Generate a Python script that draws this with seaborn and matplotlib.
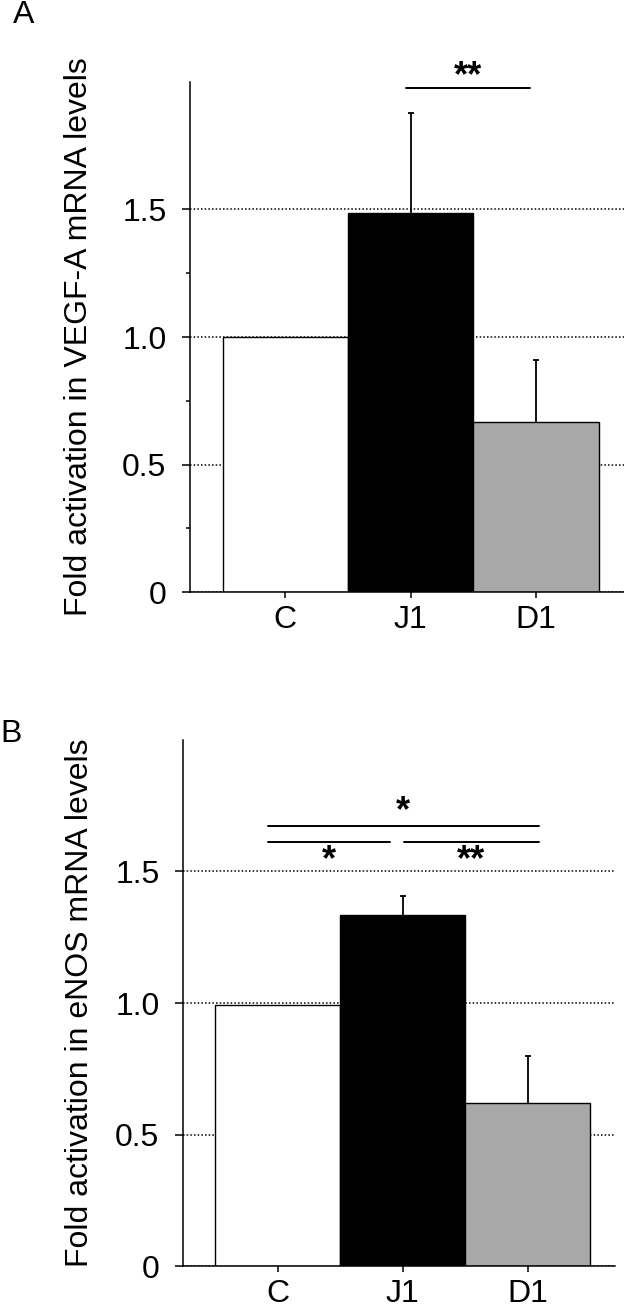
import seaborn as sns
import matplotlib.pyplot as plt
import pandas as pd
import numpy as np

groups = ["C", "J1", "D1"]
bar_colors = ["#ffffff", "#000000", "#a8a8a8"]

# panel A: VEGF-A
vegf_mean = [1.0, 1.486, 0.667]
vegf_err = [0.0, 0.392, 0.243]
# panel B: eNOS
enos_mean = [0.992, 1.333, 0.62]
enos_err = [0.0, 0.072, 0.18]

y_ticks = [0, 0.5, 1.0, 1.5]
y_ticklabels = ["0", "0.5", "1.0", "1.5"]

# significance bars: (x_start, x_end, y_line, label, y_label)
sig_a = [(0.96, 1.95, 1.976, "**", 1.985)]
sig_b = [(-0.08, 2.09, 1.674, "*", 1.69),
         (-0.08, 0.90, 1.614, "*", 1.505),
         (1.01, 2.09, 1.614, "**", 1.505)]

sns.set_theme(style="ticks")
plt.rcParams["font.family"] = ["Liberation Sans", "DejaVu Sans"]
plt.rcParams["axes.linewidth"] = 1.1
for k in ["text.color", "axes.labelcolor", "xtick.color", "ytick.color",
          "axes.edgecolor"]:
    plt.rcParams[k] = "black"

fig = plt.figure(figsize=(6.24, 13.09), dpi=100)
ax_a = fig.add_axes([0.3045, 0.5477, 0.6955, 0.3897])
ax_b = fig.add_axes([0.2933, 0.0328, 0.6923, 0.4019])

FS = 23


def draw_panel(ax, means, errs, sigs, ylabel, label_x, minor):
    df = pd.DataFrame({"group": groups, "value": means})
    ax.set_axisbelow(True)
    ax.grid(axis="y", linestyle=(0, (1, 1.4)), color="black", linewidth=1.1)
    sns.barplot(data=df, x="group", y="value", hue="group", palette=bar_colors,
                saturation=1, width=1.0, edgecolor="black", linewidth=1.0,
                errorbar=None, legend=False, ax=ax)
    pos = np.arange(len(groups))
    errs = np.array(errs)
    keep = errs > 0
    eb = ax.errorbar(pos[keep], np.array(means)[keep],
                     yerr=[np.zeros(keep.sum()), errs[keep]], fmt="none",
                     ecolor="black", elinewidth=1.3, capsize=2.5, capthick=1.3,
                     zorder=1)
    # only the upper cap is shown
    eb[1][0].set_visible(False)
    for x0, x1, y, txt, ty in sigs:
        ax.plot([x0, x1], [y, y], color="black", lw=1.4, clip_on=False)
        ax.text((x0 + x1) / 2, ty, txt, ha="center", va="baseline",
                fontsize=26, fontweight="bold", clip_on=False)
    ax.set_ylim(0, 2.0)
    ax.set_xlim(-0.76, 2.7)
    ax.set_yticks(y_ticks)
    ax.set_yticklabels(y_ticklabels)
    if minor:
        ax.set_yticks(minor, minor=True)
    ax.tick_params(axis="y", which="major", labelsize=FS, length=6, width=1.1,
                   pad=11)
    ax.tick_params(axis="y", which="minor", length=3, width=1.1)
    ax.tick_params(axis="x", labelsize=FS, length=4, width=1.1, pad=5)
    ax.set_xlabel("")
    ax.set_ylabel(ylabel, fontsize=FS)
    ax.yaxis.set_label_coords(label_x, 0.5)
    sns.despine(ax=ax)


draw_panel(ax_a, vegf_mean, vegf_err, sig_a,
           "Fold activation in VEGF-A mRNA levels", -0.222, [0.25, 0.75, 1.25])
draw_panel(ax_b, enos_mean, enos_err, sig_b,
           "Fold activation in eNOS mRNA levels", -0.204, None)

fig.text(0.021, 1.0, "A", fontsize=FS, ha="left", va="top")
fig.text(0.0, 0.451, "B", fontsize=FS, ha="left", va="top")

plt.savefig("out.png", dpi=100)
